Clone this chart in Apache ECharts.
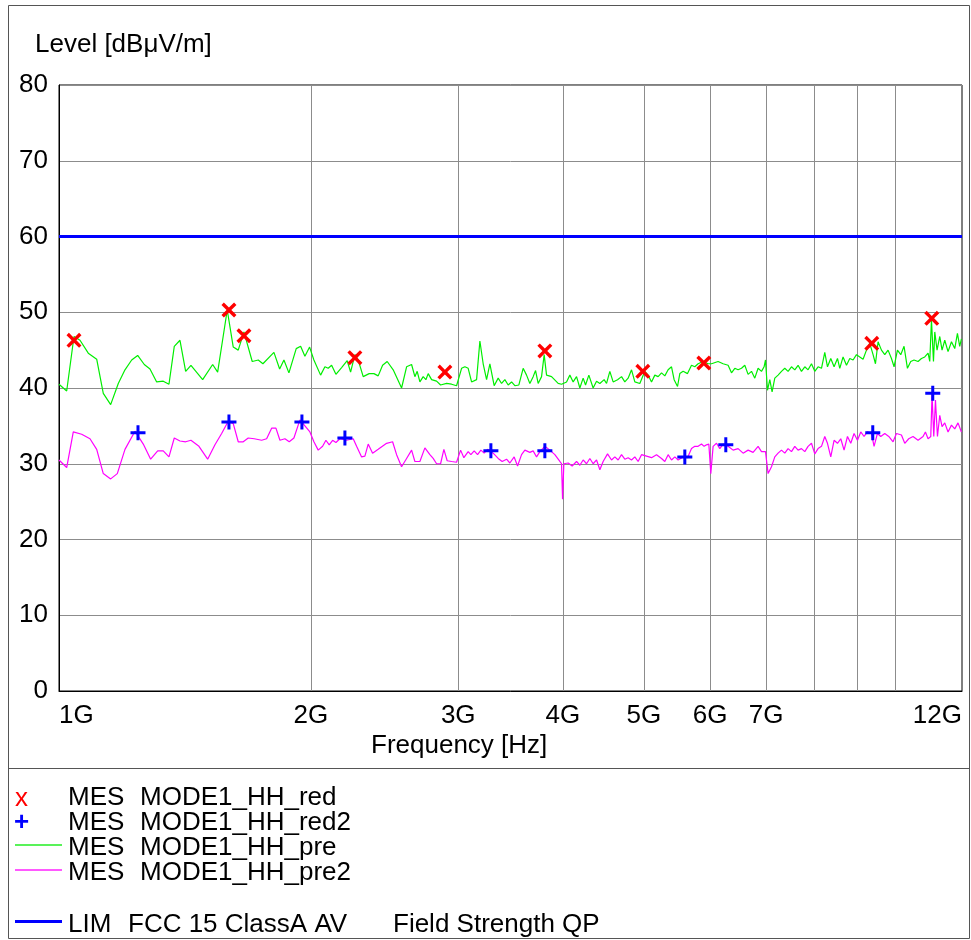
<!DOCTYPE html>
<html>
<head>
<meta charset="utf-8">
<script src="https://cdn.jsdelivr.net/npm/echarts@6/dist/echarts.min.js"></script>
<style>html,body{margin:0;padding:0;background:#fff;}#c{width:971px;height:940px;}</style>
</head>
<body>
<div id="c"></div>
<script>
// Frequencies in GHz, levels in dBµV/m
const greenFreq = [1.000,1.0214,1.0421,1.0595,1.0839,1.1093,1.1296,1.1528,1.1772,1.1991,1.2214,1.2417,1.2645,1.2845,1.3084,1.3323,1.3534,1.3733,1.3950,1.4170,1.4378,1.4849,1.5263,1.5474,1.5888,1.6153,1.6376,1.6635,1.7019,1.7302,1.7527,1.8066,1.8352,1.8570,1.8827,1.9209,1.9443,1.9674,1.9930,2.0167,2.0542,2.0787,2.0976,2.1174,2.1426,2.1764,2.2102,2.2310,2.2575,2.2781,2.3097,2.3481,2.3787,2.4070,2.4363,2.4674,2.5084,2.5670,2.6026,2.6387,2.6627,2.6796,2.6996,2.7242,2.7445,2.7620,2.7879,2.8265,2.8578,2.9054,2.9456,2.9864,3.0278,3.0554,3.0833,3.1123,3.1554,3.1842,3.2132,3.2434,3.2730,3.3119,3.3486,3.3800,3.4108,3.4419,3.4743,3.5060,3.5448,3.5869,3.6206,3.6537,3.6870,3.7114,3.7380,3.7732,3.8003,3.8254,3.8784,3.9495,3.9866,4.0418,4.0787,4.1159,4.1546,4.1925,4.2307,4.2587,4.2976,4.3487,4.3896,4.4296,4.4823,4.5120,4.5531,4.5946,4.6506,4.7020,4.7449,4.7882,4.8332,4.8773,4.9448,5.0133,5.0591,5.1066,5.1532,5.2002,5.2491,5.2969,5.3453,5.3955,5.4343,5.4853,5.5201,5.5704,5.6383,5.7006,5.7526,5.8051,5.8855,5.9670,6.0231,6.1335,6.2184,6.3046,6.3638,6.4219,6.4804,6.5413,6.6009,6.6611,6.7237,6.7850,6.8469,6.9112,6.9608,6.9877,7.0262,7.0708,7.1157,7.1688,7.2341,7.3021,7.3687,7.4359,7.5058,7.5743,7.6433,7.7152,7.7855,7.8565,7.9304,8.0027,8.0757,8.1516,8.2259,8.2872,8.3628,8.4391,8.5184,8.5725,8.6506,8.7320,8.8116,8.8919,8.9755,9.0574,9.1400,9.2259,9.3100,9.3949,9.4572,9.5251,9.6147,9.7024,9.7908,9.8829,9.9538,10.047,10.139,10.231,10.327,10.421,10.516,10.633,10.733,10.831,10.930,10.981,11.033,11.094,11.134,11.204,11.288,11.359,11.444,11.548,11.657,11.763,11.850,11.925,11.981];
const greenLevel = [40.5,39.6,46.8,46.3,44.6,43.8,39.3,37.8,40.6,42.4,43.7,44.3,43.1,42.5,40.8,40.9,40.5,45.5,46.3,42.2,43.0,41.1,43.1,42.1,50.3,45.4,45.0,47.4,43.5,43.7,43.2,44.7,42.5,43.7,42.0,45.2,45.5,44.2,45.4,43.7,41.7,42.8,42.6,43.0,41.8,42.7,43.6,42.1,44.4,43.7,41.5,41.9,41.9,41.6,43.0,43.5,42.4,40.0,42.8,43.1,41.5,42.2,40.8,41.5,41.1,41.9,41.1,40.9,40.4,40.6,40.5,40.3,42.6,42.8,42.6,40.8,41.1,46.2,43.2,41.1,43.2,40.3,41.3,40.6,41.1,40.4,40.8,40.3,40.4,42.6,41.7,40.6,41.5,42.3,40.6,41.5,44.4,41.7,41.5,40.6,40.5,40.8,41.7,40.8,41.5,40.0,41.3,40.4,41.7,40.0,40.9,40.6,41.1,40.6,42.2,40.8,41.1,41.5,40.8,41.3,42.4,40.8,40.6,42.2,41.7,40.8,41.7,41.5,42.0,41.6,42.4,42.8,41.1,40.2,41.9,42.2,41.9,43.0,42.8,43.2,43.5,43.2,43.2,43.5,43.2,43.0,42.0,42.6,42.4,42.6,43.0,41.8,42.2,41.3,42.6,42.2,42.8,43.7,39.7,41.1,39.5,41.3,41.7,42.2,42.6,42.2,42.8,42.4,43.0,42.2,42.8,42.4,43.2,42.2,42.8,42.6,44.7,42.8,43.9,42.8,43.9,42.6,44.1,43.0,43.9,43.7,44.4,44.1,43.8,45.0,45.9,44.4,43.2,46.1,45.0,44.4,45.0,43.9,42.8,45.0,44.4,45.5,42.6,43.5,43.7,43.5,43.9,44.1,44.6,43.5,49.0,43.5,47.4,45.0,46.8,45.0,46.3,44.8,46.1,45.2,47.2,45.5,46.5];

const magentaFreq = [1.000,1.0214,1.0401,1.0644,1.0890,1.1093,1.1296,1.1528,1.1740,1.1991,1.2325,1.2610,1.2869,1.3120,1.3323,1.3534,1.3733,1.3950,1.4170,1.4378,1.4698,1.5054,1.5360,1.5645,1.5932,1.6153,1.6376,1.6603,1.6833,1.7113,1.7465,1.7707,1.7952,1.8166,1.8367,1.8621,1.8843,1.9088,1.9406,1.9674,1.9947,2.0167,2.0407,2.0656,2.0844,2.1034,2.1232,2.1426,2.1663,2.2066,2.2471,2.2681,2.2996,2.3205,2.3417,2.3702,2.4070,2.4633,2.5043,2.5320,2.5670,2.6026,2.6387,2.6627,2.6996,2.7370,2.7749,2.8002,2.8265,2.8578,2.8839,2.9102,2.9456,2.9864,3.0195,3.0470,3.0833,3.1063,3.1346,3.1640,3.1929,3.2220,3.2523,3.3028,3.3486,3.3856,3.4268,3.4580,3.4992,3.5321,3.5711,3.6037,3.6537,3.6870,3.7216,3.7556,3.8076,3.8603,3.9138,3.9680,3.9866,3.9976,4.0119,4.0597,4.1046,4.1546,4.1925,4.2307,4.2704,4.3094,4.3487,4.3896,4.4296,4.4700,4.5244,4.5744,4.6162,4.6583,4.7020,4.7449,4.7882,4.8332,4.8773,4.9217,4.9680,5.0368,5.1066,5.1773,5.2491,5.2969,5.3453,5.3955,5.4448,5.4944,5.5704,5.6383,5.7006,5.7526,5.8051,5.8597,5.9018,5.9408,5.9786,6.0115,6.0497,6.1066,6.1623,6.2184,6.3046,6.3919,6.4804,6.5702,6.6611,6.7533,6.8469,6.9112,6.9877,7.0378,7.1040,7.1688,7.2341,7.3021,7.3687,7.4359,7.5058,7.5743,7.6433,7.7152,7.7855,7.8565,7.9304,8.0027,8.0757,8.1516,8.2259,8.2872,8.3628,8.4391,8.5184,8.5961,8.6745,8.7560,8.8359,8.9165,9.0002,9.0823,9.1652,9.2513,9.3537,9.4208,9.5093,9.5960,9.7024,9.8097,9.9265,10.019,10.158,10.251,10.364,10.487,10.633,10.780,10.851,10.930,11.012,11.051,11.103,11.155,11.216,11.288,11.359,11.444,11.548,11.657,11.763,11.869,11.925,11.981];
const magentaLevel = [30.5,29.5,34.2,33.9,33.3,31.9,28.7,28.0,28.7,31.9,34.3,32.6,30.6,31.7,31.7,30.9,33.4,33.0,32.9,33.1,32.3,30.6,32.5,34.0,35.6,35.3,32.9,32.9,33.4,33.3,33.1,33.3,34.7,34.7,33.1,33.3,32.9,33.4,35.8,35.0,34.2,32.9,31.8,32.3,33.1,32.5,33.1,32.8,33.3,33.1,33.3,32.3,30.9,31.0,32.6,31.4,31.9,32.7,32.9,31.2,29.6,30.7,31.8,30.3,30.3,32.1,31.2,30.7,30.0,30.0,31.9,30.4,30.3,30.2,31.8,30.8,31.6,31.2,31.7,31.2,31.8,31.4,31.9,31.4,30.7,30.3,30.6,30.1,30.9,29.7,31.2,31.8,31.5,31.7,30.9,31.6,32.3,31.8,31.2,30.3,30.0,25.3,30.0,30.1,29.7,30.3,29.8,30.5,30.0,30.7,30.0,30.5,29.2,30.3,31.3,30.5,30.9,30.5,31.2,30.6,30.8,30.5,30.9,30.3,31.2,31.0,30.8,31.2,30.7,30.3,31.2,30.5,30.9,30.5,30.9,30.8,32.0,32.3,32.3,32.6,32.3,32.5,32.6,28.7,32.3,32.7,32.0,32.6,32.3,31.8,32.0,31.4,31.8,31.5,32.3,31.6,31.6,28.7,29.6,30.9,31.4,31.8,31.4,32.0,31.6,32.3,31.8,32.0,31.6,32.3,32.7,31.3,32.0,32.3,33.6,32.7,30.9,33.1,32.7,33.3,31.8,33.6,32.7,34.0,33.1,34.2,33.6,34.2,34.0,32.3,34.0,33.6,34.0,33.6,32.9,34.0,33.8,32.7,33.3,33.6,33.1,33.6,34.2,33.3,33.6,39.1,33.6,38.4,33.6,36.4,34.9,35.4,34.2,35.1,34.6,35.4,35.5,34.2];

const redFreq = [1.0421,1.5963,1.6635,2.2575,2.8919,3.8076,4.9858,5.8970,9.3614,11.042];
const redLevel = [46.3,50.3,46.9,44.0,42.1,44.9,42.2,43.3,45.9,49.2];
const blueFreq = [1.2428,1.5963,1.9513,2.1963,3.2820,3.8076,5.5965,6.2646,9.3872,11.072];
const blueLevel = [34.1,35.5,35.5,33.4,31.7,31.7,30.9,32.5,34.1,39.3];

const limitFreq = [1, 12];
const limitLevel = [60, 60];

const xGridValues = [2,3,4,5,6,7,8,9,10];
const xLabelValues = [1,2,3,4,5,6,7,12];
const yMin = 0, yMax = 80, yStep = 10;

const names = {
  red: 'MES  MODE1_HH_red',
  red2: 'MES  MODE1_HH_red2',
  pre: 'MES  MODE1_HH_pre',
  pre2: 'MES  MODE1_HH_pre2',
  lim: 'LIM  FCC 15 ClassA AV'
};

function zip(a, b) { const n = Math.min(a.length, b.length); const r = []; for (let i = 0; i < n; i++) r.push([a[i], b[i]]); return r; }

const FONT = '"Liberation Sans", Arial, Helvetica, sans-serif';
const FS = 26;
const GREEN = '#00ee00';
const xPath = 'path://M0,1.6L1.6,0L5,3.4L8.4,0L10,1.6L6.6,5L10,8.4L8.4,10L5,6.6L1.6,10L0,8.4L3.4,5Z';
const plusPath = 'path://M4,0H6V4H10V6H6V10H4V6H0V4H4Z';

function txt(x, y, s, extra) {
  return Object.assign({ type: 'text', x: x, y: y, silent: true,
    style: Object.assign({ text: s, font: FS + 'px ' + FONT, fill: '#000', align: 'left', verticalAlign: 'middle' }, extra || {}) });
}
function ln(x1, y1, x2, y2, color, w) {
  return { type: 'line', silent: true, z: 10, shape: { x1: x1, y1: y1, x2: x2, y2: y2 }, style: { stroke: color, lineWidth: w } };
}

const chart = echarts.init(document.getElementById('c'), null, { renderer: 'canvas', width: 971, height: 940 });
chart.setOption({
  animation: false,
  backgroundColor: '#ffffff',
  textStyle: { fontFamily: FONT },
  grid: { left: 59, top: 85, width: 903, height: 606, show: true, borderColor: '#000', borderWidth: 1, backgroundColor: 'transparent' },
  xAxis: {
    type: 'log', logBase: 10, min: 1, max: 12,
    axisLine: { show: true, lineStyle: { color: '#000', width: 1 } },
    axisTick: { show: false, customValues: xGridValues },
    axisLabel: { customValues: xLabelValues, formatter: v => Math.round(v) + 'G', fontSize: FS, color: '#000', margin: 12, fontFamily: FONT, alignMinLabel: 'left', alignMaxLabel: 'right', hideOverlap: false },
    splitLine: { show: true, lineStyle: { color: '#8c8c8c', width: 1 } },
    minorSplitLine: { show: false }
  },
  yAxis: {
    type: 'value', min: yMin, max: yMax, interval: yStep,
    axisLine: { show: true, lineStyle: { color: '#000', width: 1 } },
    axisTick: { show: false },
    axisLabel: { fontSize: FS, color: '#000', margin: 11, fontFamily: FONT, lineHeight: 26, padding: [6, 0, 0, 0] },
    splitLine: { show: true, lineStyle: { color: '#8c8c8c', width: 1 } }
  },
  series: [
    { name: names.pre, type: 'line', data: zip(greenFreq, greenLevel), showSymbol: false, symbol: 'none', lineStyle: { color: GREEN, width: 1.2 }, z: 3 },
    { name: names.pre2, type: 'line', data: zip(magentaFreq, magentaLevel), showSymbol: false, symbol: 'none', lineStyle: { color: '#ff00ff', width: 1.2 }, z: 3 },
    { name: names.lim, type: 'line', data: zip(limitFreq, limitLevel), showSymbol: false, symbol: 'none', lineStyle: { color: '#0000ff', width: 3 }, z: 4 },
    { name: names.red, type: 'scatter', data: zip(redFreq, redLevel), symbol: xPath, symbolSize: 15, itemStyle: { color: '#ff0000', opacity: 1 }, z: 6 },
    { name: names.red2, type: 'scatter', data: zip(blueFreq, blueLevel), symbol: plusPath, symbolSize: 15, itemStyle: { color: '#0000ff', opacity: 1 }, z: 7 }
  ],
  graphic: [
    { type: 'rect', silent: true, shape: { x: 8.5, y: 5.5, width: 961, height: 933 }, style: { fill: 'none', stroke: '#555', lineWidth: 1 } },
    ln(8.5, 768.5, 969.5, 768.5, '#555', 1),
    txt(35, 45, 'Level [dBμV/m]'),
    txt(371, 746, 'Frequency [Hz]'),
    txt(15, 799, 'x', { fill: '#ff0000' }),
    txt(14, 823, '+', { fill: '#0000ff', font: 'bold ' + FS + 'px ' + FONT }),
    ln(15, 845, 62, 845, '#22ee22', 1.6),
    ln(15, 870, 62, 870, '#ff22ff', 1.6),
    ln(15, 921.5, 62, 921.5, '#0000ff', 3),
    txt(68, 798, 'MES'), txt(140, 798, 'MODE1_HH_red'),
    txt(68, 823, 'MES'), txt(140, 823, 'MODE1_HH_red2'),
    txt(68, 848, 'MES'), txt(140, 848, 'MODE1_HH_pre'),
    txt(68, 873, 'MES'), txt(140, 873, 'MODE1_HH_pre2'),
    txt(68, 925, 'LIM'), txt(128, 925, 'FCC 15 ClassA AV'), txt(393, 925, 'Field Strength QP')
  ]
});
</script>
</body>
</html>
